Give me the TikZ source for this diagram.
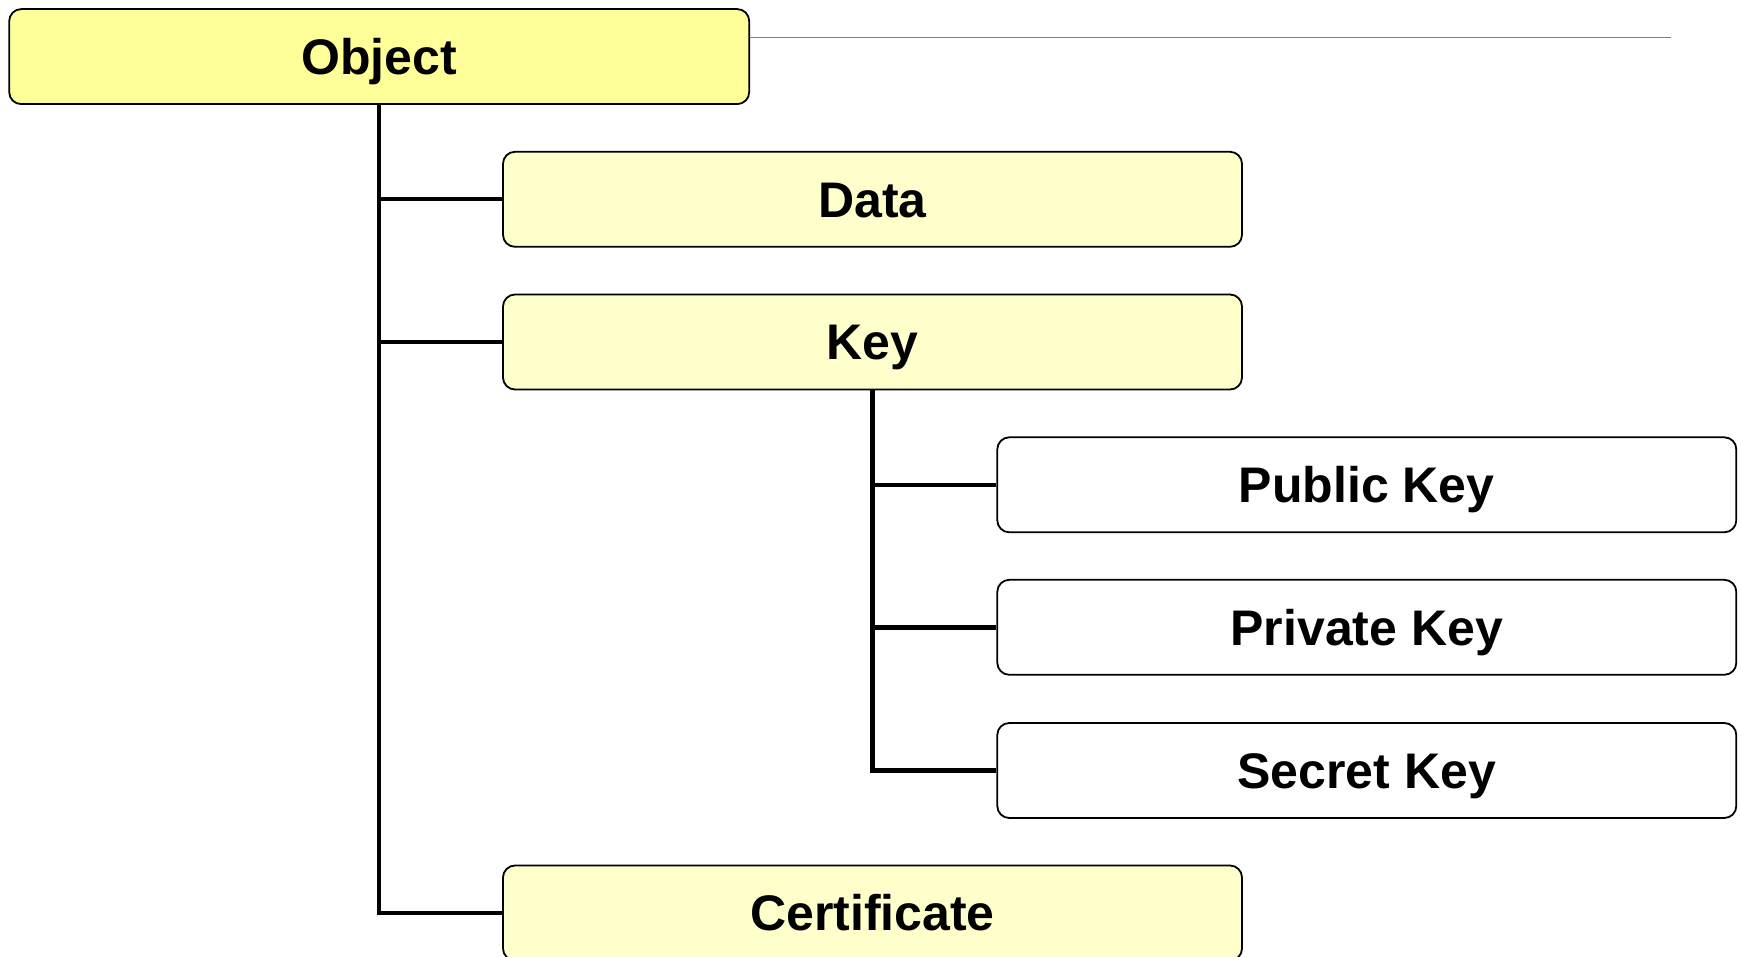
\documentclass[tikz,border=0pt]{standalone}
\usepackage{fontspec}
\setmainfont{Liberation Sans}
\definecolor{objfill}{RGB}{255,255,153}
\definecolor{subfill}{RGB}{255,255,204}
\definecolor{thingray}{RGB}{128,128,128}
\begin{document}
\begin{tikzpicture}[x=1pt,y=-1pt,
  box/.style={draw=black,line width=1.8pt,rounded corners=12pt,minimum width=739pt,minimum height=95pt,inner sep=0pt,
    text height=35.8pt,text depth=0pt,
    font=\fontsize{50}{60}\selectfont\bfseries},
  link/.style={line width=4.4pt},
]
\useasboundingbox (0,0) rectangle (1741,957);
\clip (0,0) rectangle (1741,957);
\node[box,fill=objfill,minimum width=740pt] (obj) at (379.2,56.6) {Object};
\node[box,fill=subfill] (data) at (872.5,199.3) {Data};
\node[box,fill=subfill] (key) at (872.5,342) {Key};
\node[box,fill=white] (pub) at (1366.8,484.8) {Public Key};
\node[box,fill=white] (priv) at (1366.8,627.3) {Private Key};
\node[box,fill=white] (sec) at (1366.8,770.5) {Secret Key};
\node[box,fill=subfill] (cert) at (872.5,913) {Certificate};
\coordinate (gstart) at (749.5,37.7);
\coordinate (gend) at (1671,37.7);
\draw[thingray,line width=1.5pt] (gstart) -- (gend);
\draw[link] (obj.south) |- (cert.west);
\draw[link] (obj.south |- data.west) -- (data.west);
\draw[link] (obj.south |- key.west) -- (key.west);
\draw[link] (key.south) |- (sec.west);
\draw[link] (key.south |- pub.west) -- (pub.west);
\draw[link] (key.south |- priv.west) -- (priv.west);
\end{tikzpicture}
\end{document}
